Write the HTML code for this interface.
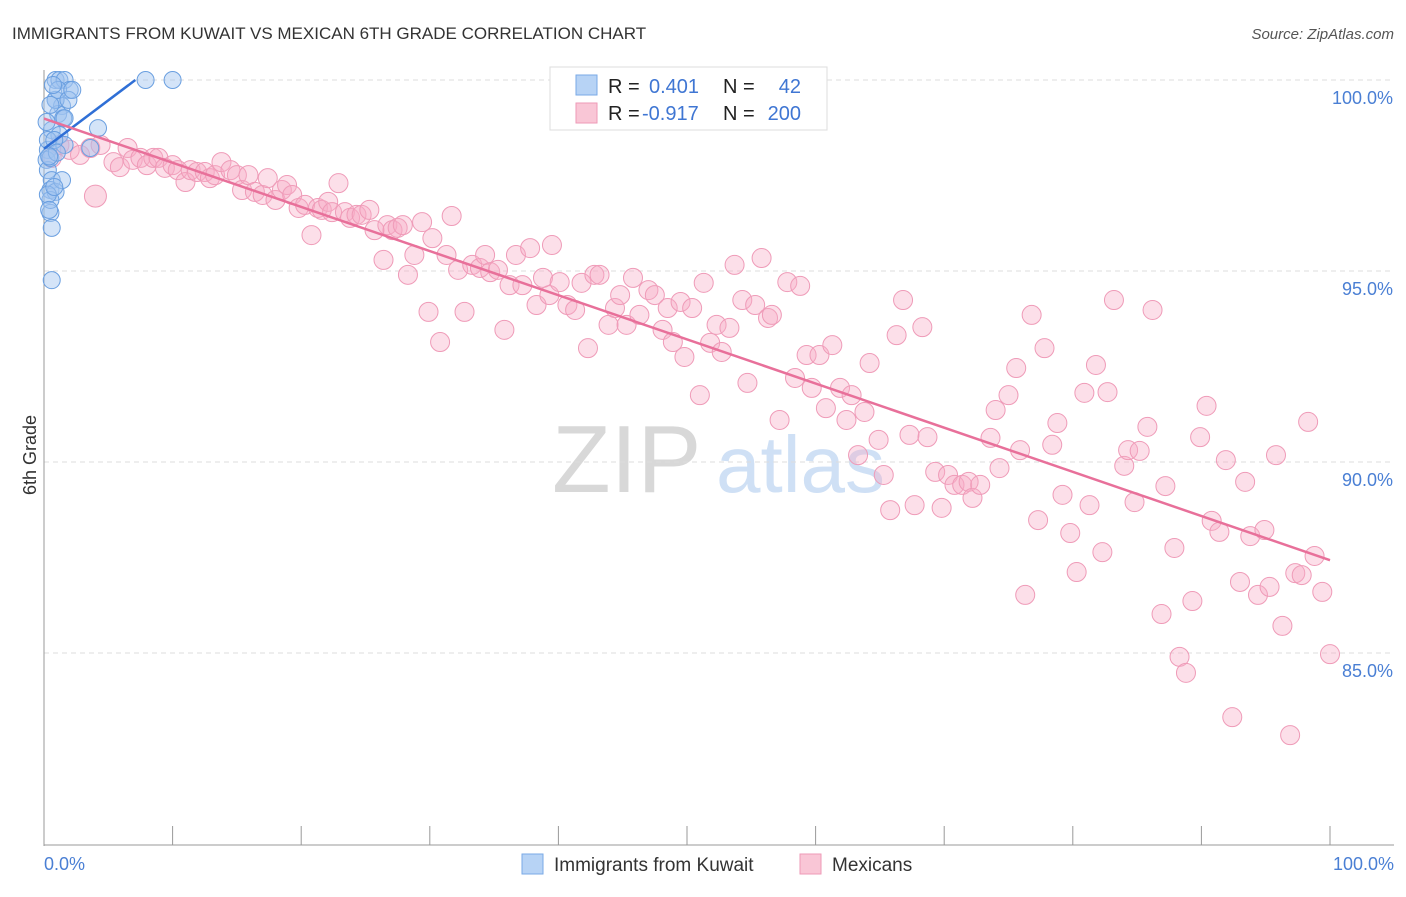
<!DOCTYPE html>
<html><head><meta charset="utf-8"><style>
body{margin:0;background:#fff;font-family:"Liberation Sans",sans-serif;}
svg text{font-family:"Liberation Sans",sans-serif;}
</style></head><body>
<svg id="chart" width="1406" height="892" viewBox="0 0 1406 892" xmlns="http://www.w3.org/2000/svg">
<text x="12" y="39" font-size="17" fill="#333">IMMIGRANTS FROM KUWAIT VS MEXICAN 6TH GRADE CORRELATION CHART</text>
<text x="1394" y="39" font-size="15" fill="#555" text-anchor="end" font-style="italic">Source: ZipAtlas.com</text>
<g>
<text x="552" y="492" font-size="96" fill="#d8d8d8" font-family="Liberation Serif">ZIP</text>
<text x="716" y="492" font-size="80" fill="#cfe0f5">atlas</text>
</g>
<g id="grid"></g>
<g id="axes"></g>
<g id="pts"></g>
<g id="lines"></g>
<text x="36" y="455" font-size="18" fill="#333" text-anchor="middle" transform="rotate(-90 36 455)">6th Grade</text>
<g>
<rect x="550" y="67" width="277" height="63" fill="#fff" stroke="#ddd"/>
<rect x="576" y="75" width="21" height="20" fill="#b7d3f5" stroke="#7aaae6"/>
<rect x="576" y="103" width="21" height="20" fill="#f9c6d6" stroke="#ee9ab7"/>
<text x="608" y="93" font-size="20" fill="#222">R =</text>
<text x="649" y="93" font-size="20" fill="#3f76d3">0.401</text>
<text x="723" y="93" font-size="20" fill="#222">N =</text>
<text x="801" y="93" font-size="20" fill="#3f76d3" text-anchor="end">42</text>
<text x="608" y="120" font-size="20" fill="#222">R =</text>
<text x="642" y="120" font-size="20" fill="#3f76d3">-0.917</text>
<text x="723" y="120" font-size="20" fill="#222">N =</text>
<text x="801" y="120" font-size="20" fill="#3f76d3" text-anchor="end">200</text>
</g>
<g>
<rect x="522" y="854" width="21" height="20" fill="#b7d3f5" stroke="#7aaae6"/>
<text x="554" y="871" font-size="19" fill="#333">Immigrants from Kuwait</text>
<rect x="800" y="854" width="21" height="20" fill="#f9c6d6" stroke="#ee9ab7"/>
<text x="832" y="871" font-size="19" fill="#333">Mexicans</text>
</g>
</svg>
<script>
const yTicks=[100,95,90,85];
const yTickLabels=["100.0%","95.0%","90.0%","85.0%"];
const xTickLabels=["0.0%","100.0%"];
const pinkX=[0.6,1.2,2.0,2.8,3.6,4.4,5.4,5.9,6.5,6.9,7.5,8.0,8.5,8.9,9.4,10.0,10.4,11.0,11.4,11.9,12.5,12.9,13.3,13.8,14.5,15.0,15.4,15.9,16.4,17.0,17.4,18.0,18.5,18.9,19.3,19.8,20.3,20.8,21.3,21.6,22.1,22.4,22.9,23.4,23.8,24.3,24.7,25.3,25.7,26.4,26.7,27.1,27.5,27.9,28.3,28.8,29.4,29.9,30.2,30.8,31.3,31.7,32.2,32.7,33.3,33.9,34.3,34.7,35.3,35.8,36.2,36.7,37.2,37.8,38.3,38.8,39.3,39.5,40.1,40.7,41.3,41.8,42.3,42.8,43.2,43.9,44.4,44.8,45.3,45.8,46.3,47.0,47.5,48.1,48.5,48.9,49.5,49.8,50.4,51.0,51.3,51.8,52.3,52.7,53.3,53.7,54.3,54.7,55.3,55.8,56.3,56.6,57.2,57.8,58.4,58.8,59.3,59.7,60.3,60.8,61.3,61.9,62.4,62.8,63.3,63.8,64.2,64.9,65.3,65.8,66.3,66.8,67.3,67.7,68.3,68.7,69.3,69.8,70.3,70.8,71.4,71.9,72.2,72.8,73.6,74.0,74.3,75.0,75.6,75.9,76.3,76.8,77.3,77.8,78.4,78.8,79.2,79.8,80.3,80.9,81.3,81.8,82.3,82.7,83.2,84.0,84.3,84.8,85.2,85.8,86.2,86.9,87.2,87.9,88.3,88.8,89.3,89.9,90.4,90.8,91.4,91.9,92.4,93.0,93.4,93.8,94.4,94.9,95.3,95.8,96.3,96.9,97.3,97.8,98.3,98.8,99.4,100];
const pinkY=[97.96,98.3,98.17,98.04,98.22,98.3,97.85,97.72,98.22,97.91,97.96,97.77,97.96,97.96,97.7,97.77,97.64,97.33,97.64,97.59,97.59,97.43,97.51,97.85,97.64,97.51,97.12,97.51,97.07,96.99,97.43,96.86,97.12,97.25,96.99,96.65,96.73,95.94,96.65,96.6,96.81,96.54,97.3,96.54,96.39,96.47,96.47,96.6,96.07,95.29,96.2,96.07,96.13,96.2,94.9,95.42,96.28,93.93,95.86,93.14,95.42,96.44,95.03,93.93,95.16,95.08,95.42,94.97,95.03,93.46,94.63,95.42,94.63,95.6,94.11,94.82,94.37,95.68,94.71,94.11,93.98,94.69,92.98,94.9,94.9,93.59,94.03,94.37,93.59,94.82,93.85,94.5,94.37,93.46,94.03,93.14,94.19,92.75,94.03,91.75,94.69,93.12,93.59,92.88,93.51,95.16,94.24,92.07,94.11,95.34,93.77,93.85,91.1,94.71,92.2,94.61,92.8,91.94,92.8,91.41,93.06,91.94,91.1,91.75,90.18,91.31,92.59,90.58,89.66,88.74,93.32,94.24,90.71,88.87,93.53,90.65,89.74,88.8,89.66,89.4,89.4,89.48,89.06,89.4,90.63,91.36,89.84,91.75,92.46,90.31,86.52,93.85,88.48,92.98,90.45,91.02,89.14,88.14,87.12,91.81,88.87,92.54,87.64,91.83,94.24,89.9,90.31,88.95,90.29,90.92,93.98,86.02,89.37,87.75,84.9,84.48,86.36,90.65,91.47,88.46,88.17,90.05,83.32,86.86,89.48,88.06,86.52,88.22,86.73,90.18,85.71,82.85,87.09,87.04,91.05,87.54,86.6,84.97];
const pinkBigX=[4.0];
const pinkBigY=[96.96];
const blueX=[0.9,1.2,1.6,2.0,0.9,1.4,1.1,1.5,0.6,1.2,0.3,0.2,0.3,0.6,0.5,0.9,1.4,0.5,0.6,0.6,4.2,7.9,10.0,0.3,1.6,0.5,0.9,1.1,1.6,1.9,2.2,0.5,0.5,0.8,0.2,0.7,3.6,0.3,0.4,1.0,0.8,0.4];
const blueY=[100,100,100,99.74,99.48,99.32,99.11,99.0,98.69,98.56,98.17,97.91,97.64,97.38,97.12,97.07,97.38,96.52,96.13,94.76,98.74,100,100,98.43,98.3,97.96,99.48,99.74,99.0,99.48,99.74,96.86,99.35,98.43,98.9,99.87,98.22,97.0,96.6,98.1,97.2,98.0];
const blueLine=[[0,98.2],[7.1,100]];
const pinkLine=[[0,98.99],[100,87.43]];
const X0=44,X1=1330,Y100=80,PPU=38.2;
const sx=v=>X0+(X1-X0)*v/100;
const sy=v=>Y100+(100-v)*PPU;
const NS="http://www.w3.org/2000/svg";
function mk(tag,attrs,parent){const e=document.createElementNS(NS,tag);for(const k in attrs)e.setAttribute(k,attrs[k]);document.getElementById(parent).appendChild(e);return e;}
yTicks.forEach((t,i)=>{
  const g=mk('line',{x1:44,x2:1394,y1:sy(t),y2:sy(t),stroke:'#ddd','stroke-dasharray':'5,4'},'grid');
  
  
  const tx=mk('text',{x:1393,y:sy(t)+24,'font-size':18,fill:'#4a7fd4','text-anchor':'end'},'grid');
  tx.textContent=yTickLabels[i];
  
  
});
const ya=mk('line',{x1:44,x2:44,y1:70,y2:846,stroke:'#999'},'axes');


const xa=mk('line',{x1:44,x2:1394,y1:845,y2:845,stroke:'#999'},'axes');


for(let i=0;i<=10;i++){
  const tk=mk('line',{x1:sx(i*10),x2:sx(i*10),y1:826,y2:845,stroke:'#999'},'axes');
  
  
}
[0,100].forEach((v,i)=>{
  const t=mk('text',{x:i?1394:44,y:870,'font-size':18,fill:'#4a7fd4','text-anchor':i?'end':'start'},'axes');
  t.textContent=xTickLabels[i];
  
  
});
pinkX.forEach((x,i)=>{
  const c=mk('circle',{cx:sx(x),cy:sy(pinkY[i]),r:9.5,fill:'rgba(246,170,196,0.38)',stroke:'#ef9bb8','stroke-width':1},'pts');
  
  
});
pinkBigX.forEach((x,i)=>{
  const c=mk('circle',{cx:sx(x),cy:sy(pinkBigY[i]),r:11,fill:'rgba(246,170,196,0.45)',stroke:'#ef9bb8','stroke-width':1},'pts');
  
  
});
blueX.forEach((x,i)=>{
  const c=mk('circle',{cx:sx(x),cy:sy(blueY[i]),r:8.5,fill:'rgba(160,196,240,0.45)',stroke:'#6a9fe0','stroke-width':1},'pts');
  
  
});
const bl=mk('line',{x1:sx(blueLine[0][0]),y1:sy(blueLine[0][1]),x2:sx(blueLine[1][0]),y2:sy(blueLine[1][1]),stroke:'#2f6fd6','stroke-width':2.5},'lines');


const pl=mk('line',{x1:sx(pinkLine[0][0]),y1:sy(pinkLine[0][1]),x2:sx(pinkLine[1][0]),y2:sy(pinkLine[1][1]),stroke:'#e8709a','stroke-width':2.5},'lines');


</script>
</body></html>
